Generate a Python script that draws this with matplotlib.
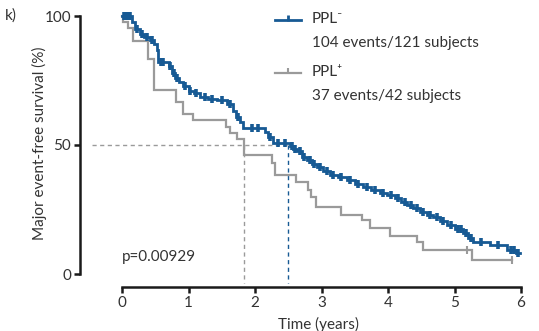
import numpy as np
import matplotlib
matplotlib.use("Agg")
import matplotlib.pyplot as plt
from matplotlib.lines import Line2D

plt.rcParams['font.family'] = ['Lato', 'DejaVu Sans']

# ---------------- data ----------------
blue_t = [0, 0.15, 0.20, 0.27, 0.33, 0.42, 0.48, 0.53, 0.54, 0.70, 0.75, 0.80, 0.86,
          0.92, 1.00, 1.08, 1.17, 1.30, 1.43, 1.58, 1.67, 1.72, 1.77, 1.82, 2.15, 2.20,
          2.27, 2.52, 2.57, 2.63, 2.70, 2.78, 2.85, 2.93, 3.03, 3.13, 3.25, 3.38, 3.50,
          3.62, 3.75, 3.88, 3.98, 4.10, 4.20, 4.29, 4.38, 4.48, 4.58, 4.68, 4.78, 4.89,
          5.00, 5.13, 5.20, 5.28, 5.53, 5.79, 5.93]
blue_s = [100, 97.5, 95, 93, 92, 90.7, 89, 87, 82, 80.5, 78, 76, 74.5,
          73, 71, 70, 68.6, 68, 67.4, 66, 63, 61, 59, 56.6, 55, 53,
          50.8, 49.5, 48.5, 47.5, 45.5, 44, 42.5, 41.5, 40, 38.4, 37.5, 36.4, 35,
          33.7, 32.5, 31.5, 30.6, 29.5, 28, 26.7, 25.5, 24, 23, 22, 20.5, 19,
          17.5, 15.9, 14, 12.4, 11.2, 9.3, 8.3]
blue_end = 5.98
blue_censor = [0.03, 0.06, 0.09, 0.12, 0.22, 0.30, 0.38, 0.45, 0.58, 0.62, 0.72, 0.78,
               0.83, 0.95, 1.03, 1.12, 1.25, 1.35, 1.50, 1.62, 1.75, 1.95, 2.05, 2.22,
               2.35, 2.45, 2.55, 2.60, 2.67, 2.74, 2.82, 2.88, 2.97, 3.08, 3.18, 3.30,
               3.43, 3.55, 3.68, 3.80, 3.93, 4.05, 4.15, 4.25, 4.34, 4.43, 4.53, 4.63,
               4.73, 4.83, 4.95, 5.05, 5.10, 5.17, 5.25, 5.40, 5.65, 5.85, 5.90, 5.96]

gray_t = [0, 0.02, 0.09, 0.17, 0.39, 0.48, 0.81, 0.92, 1.07, 1.56, 1.62, 1.73, 1.83,
          2.25, 2.30, 2.62, 2.80, 2.84, 2.92, 3.29, 3.61, 3.73, 4.03, 4.44, 4.53, 5.27]
gray_s = [100, 97.6, 95.2, 90.5, 83.3, 71.4, 66.7, 61.9, 59.5, 57.1, 54.8, 52.4, 46.0,
          42.9, 38.5, 35.7, 32.5, 30.0, 26.0, 23.0, 21.0, 18.0, 14.7, 12.4, 9.3, 5.4]
gray_end = 5.86
gray_censor = [5.19, 5.86]

blue_median = 2.50
gray_median = 1.83

x_ticks = [0, 1, 2, 3, 4, 5, 6]
y_ticks = [0, 50, 100]

blue_label = "PPL\u207b"
blue_sub = "104 events/121 subjects"
gray_label = "PPL\u207a"
gray_sub = "37 events/42 subjects"
p_text = "p=0.00929"

# ---------------- style ----------------
BLUE = '#175a94'
GRAY = '#9a9a9a'
TXT = '#333333'
FS = 11

W, H = 539, 331
fig = plt.figure(figsize=(W / 100, H / 100), dpi=100)
left_px, right_px, top_px, bot_px = 122, 521, 16, 274
ax = fig.add_axes([left_px / W, 1 - bot_px / H,
                   (right_px - left_px) / W, (bot_px - top_px) / H])
ax.set_xlim(0, 6)
ax.set_ylim(0, 100)

def km(ax, t, s, end, censor, color, lw, ms, mew):
    tt = list(t) + [end]
    ss = list(s) + [s[-1]]
    ax.step(tt, ss, where='post', color=color, lw=lw, solid_joinstyle='miter',
            clip_on=False, zorder=3)
    t_arr = np.array(t)
    idx = np.searchsorted(t_arr, np.array(censor), side='right') - 1
    cy = np.array(s)[idx]
    ax.plot(censor, cy, ls='none', marker='|', color=color, ms=ms, mew=mew,
            clip_on=False, zorder=4)

km(ax, gray_t, gray_s, gray_end, gray_censor, GRAY, 1.6, 6, 1.5)
km(ax, blue_t, blue_s, blue_end, blue_censor, BLUE, 2.0, 6, 2.6)

# spines (prism-like offset)
off_left, off_bot = 30, 9
for side in ['top', 'right']:
    ax.spines[side].set_visible(False)
ax.spines['left'].set_position(('outward', off_left))
ax.spines['bottom'].set_position(('outward', off_bot))
for side in ['left', 'bottom']:
    ax.spines[side].set_linewidth(1.8)
    ax.spines[side].set_color('#1a1a1a')
ax.set_xticks(x_ticks)
ax.set_yticks(y_ticks)
ax.tick_params(axis='both', direction='out', length=4.5, width=1.8, color='#1a1a1a',
               labelsize=FS, labelcolor=TXT, pad=2)
ax.set_xticklabels([str(v) for v in x_ticks])
ax.set_yticklabels([str(v) for v in y_ticks])

# dashed median lines
px_per_x = (right_px - left_px) / 6.0
px_per_y = (bot_px - top_px) / 100.0
x_left_spine = -off_left / px_per_x
y_bot_spine = -off_bot / px_per_y
ax.plot([x_left_spine, blue_median], [50, 50], ls=(0, (3, 2.5)), color=GRAY, lw=1.0,
        clip_on=False, zorder=2)
ax.plot([gray_median, gray_median], [50, y_bot_spine], ls=(0, (3, 2.5)), color=GRAY,
        lw=1.0, clip_on=False, zorder=2)
ax.plot([blue_median, blue_median], [50, y_bot_spine], ls=(0, (3, 2.5)), color=BLUE,
        lw=1.0, clip_on=False, zorder=2)

# labels
fig.text(39 / W, 1 - 143 / H, "Major event-free survival (%)", rotation=90,
         ha='center', va='center', fontsize=FS, color=TXT)
fig.text(318 / W, 1 - 324 / H, "Time (years)", ha='center', va='center',
         fontsize=FS, color=TXT)
fig.text(5 / W, 1 - 16 / H, "k)", ha='left', va='center', fontsize=FS, color=TXT)
ax.text(0.0, 6.5, p_text, ha='left', va='center', fontsize=FS, color=TXT)

# legend (manual)
def leg(y_px, color, lw, mew, label, sub):
    yf = 1 - y_px / H
    fig.add_artist(Line2D([275 / W, 301 / W], [yf, yf], color=color, lw=lw,
                          transform=fig.transFigure))
    fig.add_artist(Line2D([288 / W], [yf + 2.5 / H], marker='|', ms=5, mew=mew,
                          color=color, transform=fig.transFigure))
    fig.text(312 / W, yf + 1 / H, label, ha='left', va='center', fontsize=FS, color=TXT)
    fig.text(312 / W, yf - 23 / H, sub, ha='left', va='center', fontsize=FS, color=TXT)

leg(20, BLUE, 2.0, 2.0, blue_label, blue_sub)
leg(73, GRAY, 1.6, 1.5, gray_label, gray_sub)

fig.savefig('out.png', dpi=100, facecolor='white')
